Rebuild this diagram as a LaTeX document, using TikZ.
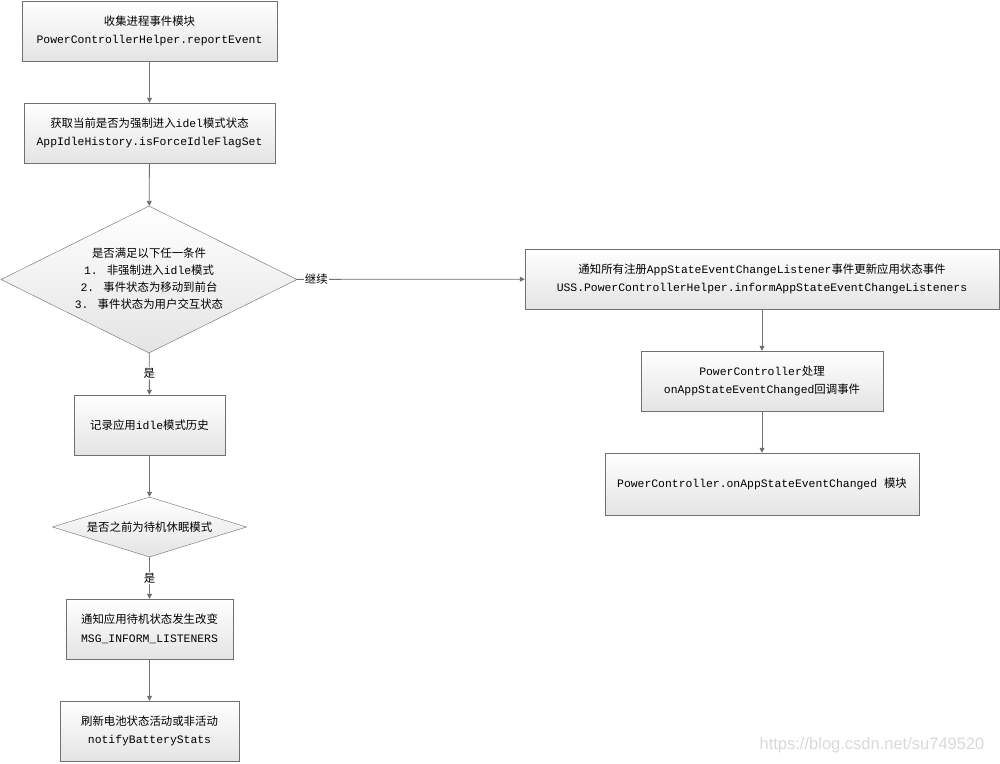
\documentclass[tikz,border=0pt]{standalone}
\usepackage{fontspec}
\setmainfont{Liberation Mono}
\newfontfamily\cjk{Noto Sans CJK SC}
\newfontfamily\wmfont{Liberation Sans}
\newcommand\zh[1]{{\cjk #1}}
\usetikzlibrary{shapes.geometric,arrows.meta}
\definecolor{lineg}{HTML}{707070}
\definecolor{boxbot}{HTML}{E4E4E4}
\definecolor{diafill}{HTML}{EEEEEE}
\begin{document}
\begin{tikzpicture}[x=1pt,y=-1pt,font=\fontsize{11.4}{18.5}\selectfont]
                \useasboundingbox[fill=white] (0,0) rectangle (1000,763);
                \begin{scope}[every node/.style={rectangle,draw=lineg,top color=white,bottom color=boxbot,align=center,inner sep=0pt},
                    decision/.style={diamond,draw=lineg,fill=diafill,inner sep=0pt,aspect=2},
                    plain/.style={draw=none,fill=none,shade=none}]
                    \node[minimum width=255,minimum height=60] (1) at (149.5,31) {\zh{收集进程事件模块}\\PowerControllerHelper.reportEvent};
                    \node[minimum width=251,minimum height=60] (2) at (149.5,133) {\zh{获取当前是否为强制进入}idel\zh{模式状态}\\AppIdleHistory.isForceIdleFlagSet};
                    \node[decision,minimum width=296,minimum height=147] (3) at (149,279.5) {};
                    \node[plain,font=\fontsize{11.4}{17}\selectfont] (3t) at (149,279) {\zh{是否满足以下任一条件}\\1. \zh{非强制进入}idle\zh{模式}\\2. \zh{事件状态为移动到前台}\\3. \zh{事件状态为用户交互状态}};
                    \node[minimum width=151,minimum height=60] (4) at (149.5,425) {\zh{记录应用}idle\zh{模式历史}};
                    \node[decision,minimum width=194,minimum height=60] (5) at (149.5,527) {};
                    \node[plain] (5t) at (149.5,527) {\zh{是否之前为待机休眠模式}};
                    \node[minimum width=167,minimum height=60] (6) at (149.5,629) {\zh{通知应用待机状态发生改变}\\MSG\_INFORM\_LISTENERS};
                    \node[minimum width=179,minimum height=60] (7) at (149.5,731) {\zh{刷新电池状态活动或非活动}\\notifyBatteryStats};
                    \node[minimum width=474,minimum height=60] (8) at (762,279) {\zh{通知所有注册}AppStateEventChangeListener\zh{事件更新应用状态事件}\\USS.PowerControllerHelper.informAppStateEventChangeListeners};
                    \node[minimum width=242,minimum height=60] (9) at (762,381) {PowerController\zh{处理}\\onAppStateEventChanged\zh{回调事件}};
                    \node[minimum width=314,minimum height=62] (10) at (762,484) {PowerController.onAppStateEventChanged \zh{模块}};
                \end{scope}
                \begin{scope}[->,draw=lineg,thick,>={Triangle[width=5pt,length=5pt]},
                    every node/.style={fill=white,inner sep=1pt,text=black}]
                    \draw (1) edge (2);
                    \draw (2) edge (3);
                    \draw (3) edge node[pos=0.48]{\zh{是}} (4);
                    \draw (3) edge node[pos=0.085]{\zh{继续}} (8);
                    \draw (4) edge (5);
                    \draw (5) edge node[pos=0.5]{\zh{是}} (6);
                    \draw (6) edge (7);
                    \draw (8) edge (9);
                    \draw (9) edge (10);
                \end{scope}
                \node[text=gray!30,font=\wmfont\fontsize{16.5}{18}\selectfont] (wm) at (872,745) {https://blog.csdn.net/su749520};
            \end{tikzpicture}
\end{document}
